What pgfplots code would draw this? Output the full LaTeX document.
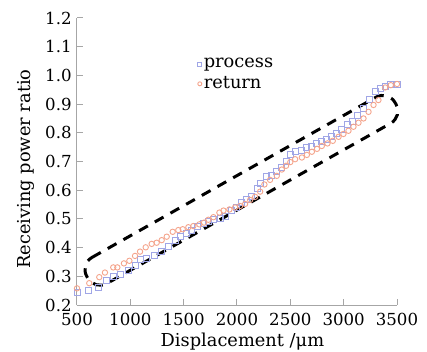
\documentclass[border=0pt]{standalone}
\usepackage{fontspec}
\setmainfont{DejaVu Serif}
\usepackage{pgfplots}
\pgfplotsset{compat=1.18}
\definecolor{procblue}{HTML}{A0A6E6}
\definecolor{retred}{HTML}{F4A48C}
\begin{document}
\fontsize{8.9}{10.5}\selectfont
\begin{tikzpicture}
\useasboundingbox (-38.5pt,-23.5pt) rectangle (175pt,152.5pt);
\begin{axis}[
  at={(0pt,0pt)}, anchor=south west,
  width=160pt, height=143.5pt, scale only axis,
  xmin=500, xmax=3500, ymin=0.2, ymax=1.2,
  axis x line*=bottom, axis y line*=left,
  axis line style={gray!70, line width=0.5pt},
  tick style={gray!70, line width=0.5pt},
  tick align=inside, major tick length=3pt,
  xtick={500,1000,...,3500},
  ytick={0.2,0.3,...,1.2},
  /pgf/number format/assume math mode=true,
  tick label style={font=\fontsize{8.3}{9.5}\selectfont, inner sep=0.5pt},
  xticklabel style={yshift=-3.3pt, /pgf/number format/.cd, fixed, 1000 sep={}},
  yticklabel style={xshift=-2pt, /pgf/number format/.cd, fixed, precision=1, zerofill},
  scaled x ticks=false,
  xlabel={Displacement /μm},
  ylabel={Receiving power ratio},
  xlabel style={at={(axis description cs:0.517,0)}, anchor=center, yshift=-18.25pt},
  ylabel style={at={(axis description cs:0,0.474)}, anchor=center, yshift=25.5pt},
  clip=false,
  legend style={draw=none, fill=none, at={(0.37,0.882)}, anchor=north west,
    row sep=-1pt, inner sep=1pt, nodes={inner xsep=1pt}},
  legend cell align=left,
  legend image code/.code={\draw[#1, mark size=1pt] (0pt,0pt) -- plot coordinates {(0pt,0pt)};},
]
\addplot[only marks, mark=square, mark size=1.5pt, procblue, mark options={line width=0.45pt}] coordinates {
(500,0.242)(606,0.250)(700,0.262)(772,0.287)(840,0.300)(910,0.308)(981,0.322)
(1044,0.339)(1091,0.357)(1154,0.363)(1222,0.371)(1294,0.386)(1356,0.403)
(1419,0.425)(1466,0.438)(1529,0.450)(1576,0.461)(1630,0.475)(1685,0.485)
(1732,0.490)(1779,0.499)(1841,0.502)(1888,0.510)(1951,0.531)(1998,0.540)
(2045,0.556)(2092,0.568)(2139,0.577)(2191,0.607)(2217,0.624)(2280,0.647)
(2326,0.653)(2373,0.665)(2420,0.678)(2460,0.700)(2498,0.725)(2545,0.734)
(2608,0.740)(2655,0.749)(2702,0.754)(2749,0.763)(2795,0.771)(2842,0.777)
(2889,0.786)(2936,0.798)(2983,0.810)(3036,0.830)(3086,0.839)(3129,0.862)
(3186,0.885)(3242,0.917)(3295,0.943)(3342,0.955)(3389,0.961)(3442,0.967)
(3500,0.970)};
\addlegendentry{process}
\addplot[only marks, mark=o, mark size=1.35pt, retred, mark options={line width=0.45pt}] coordinates {
(500,0.258)(615,0.276)(709,0.297)(762,0.313)(840,0.331)(878,0.331)(940,0.345)
(991,0.354)(1044,0.371)(1091,0.386)(1144,0.401)(1200,0.413)(1247,0.417)
(1294,0.426)(1341,0.438)(1397,0.455)(1450,0.461)(1491,0.464)(1544,0.471)
(1591,0.475)(1647,0.481)(1691,0.487)(1732,0.497)(1779,0.506)(1835,0.522)
(1873,0.529)(1929,0.533)(1982,0.540)(2029,0.545)(2076,0.552)(2123,0.566)
(2170,0.577)(2217,0.595)(2257,0.620)(2310,0.636)(2373,0.650)(2420,0.672)
(2460,0.685)(2500,0.698)(2545,0.708)(2608,0.714)(2655,0.723)(2702,0.734)
(2750,0.744)(2795,0.754)(2848,0.763)(2898,0.772)(2952,0.786)(2998,0.796)
(3045,0.807)(3092,0.821)(3139,0.835)(3186,0.850)(3233,0.873)(3280,0.897)
(3326,0.914)(3389,0.958)(3442,0.966)(3500,0.970)};
\addlegendentry{return}
\draw[black, line width=1.5pt, dash pattern=on 5pt off 4pt, rounded corners=7pt]
  (axis cs:527,0.342) -- (axis cs:3417,0.948) -- (axis cs:3555,0.857)
  -- (axis cs:666,0.251) -- cycle;
\end{axis}
\end{tikzpicture}
\end{document}
